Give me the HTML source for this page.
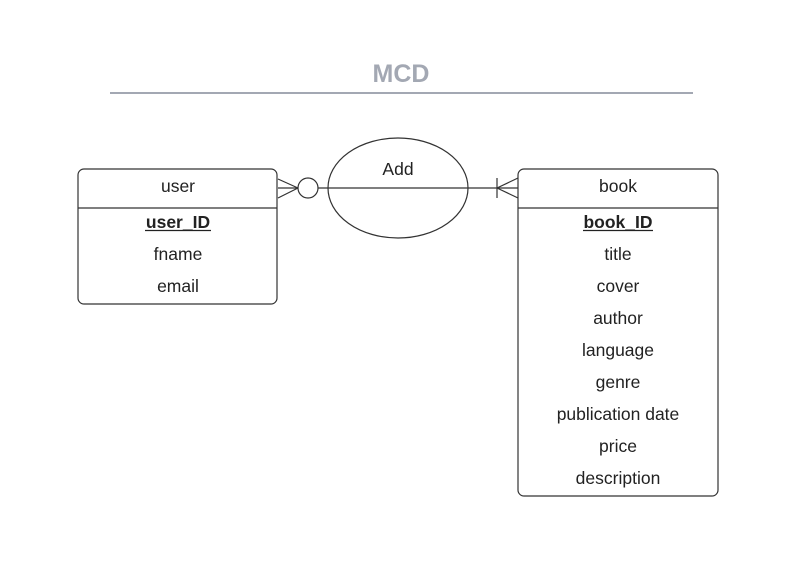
<!DOCTYPE html>
<html><head><style>
body{margin:0;background:#fff;width:803px;height:566px;overflow:hidden}
text{font-family:"Liberation Sans",sans-serif;}
</style></head><body>
<svg width="803" height="566" xmlns="http://www.w3.org/2000/svg">
<rect width="803" height="566" fill="#fff"/>
<text x="401" y="82" text-anchor="middle" font-size="25" font-weight="bold" fill="#a3a8b3">MCD</text>
<line x1="110" y1="93" x2="693" y2="93" stroke="#a3a8b3" stroke-width="2"/>
<ellipse cx="398" cy="188" rx="70" ry="50" fill="#fff" stroke="#333" stroke-width="1.2"/>
<text x="398" y="175" text-anchor="middle" font-size="17.5" fill="#222">Add</text>
<line x1="278" y1="188" x2="518" y2="188" stroke="#333" stroke-width="1.2"/>
<line x1="278" y1="179" x2="298" y2="188" stroke="#333" stroke-width="1.2"/>
<line x1="278" y1="198" x2="298" y2="188" stroke="#333" stroke-width="1.2"/>
<circle cx="308" cy="188" r="10" fill="#fff" stroke="#333" stroke-width="1.2"/>
<line x1="518" y1="178" x2="497" y2="188" stroke="#333" stroke-width="1.2"/>
<line x1="518" y1="198" x2="497" y2="188" stroke="#333" stroke-width="1.2"/>
<line x1="497" y1="178" x2="497" y2="198" stroke="#333" stroke-width="1.2"/>
<rect x="78" y="169" width="199" height="135" rx="6" fill="#fff" stroke="#333" stroke-width="1.2"/>
<line x1="78" y1="208" x2="277" y2="208" stroke="#333" stroke-width="1.2"/>
<g font-size="17.5" fill="#222" text-anchor="middle">
<text x="178" y="192">user</text>
<text x="178" y="228" font-weight="bold">user_ID</text>
<line x1="145" y1="230.5" x2="211" y2="230.5" stroke="#222" stroke-width="1.2"/>
<text x="178" y="260">fname</text>
<text x="178" y="292">email</text>
</g>
<rect x="518" y="169" width="200" height="327" rx="6" fill="#fff" stroke="#333" stroke-width="1.2"/>
<line x1="518" y1="208" x2="718" y2="208" stroke="#333" stroke-width="1.2"/>
<g font-size="17.5" fill="#222" text-anchor="middle">
<text x="618" y="192">book</text>
<text x="618" y="228" font-weight="bold">book_ID</text>
<line x1="583" y1="230.5" x2="653" y2="230.5" stroke="#222" stroke-width="1.2"/>
<text x="618" y="260">title</text>
<text x="618" y="292">cover</text>
<text x="618" y="324">author</text>
<text x="618" y="356">language</text>
<text x="618" y="388">genre</text>
<text x="618" y="420">publication date</text>
<text x="618" y="452">price</text>
<text x="618" y="484">description</text>
</g>
</svg>
</body></html>
